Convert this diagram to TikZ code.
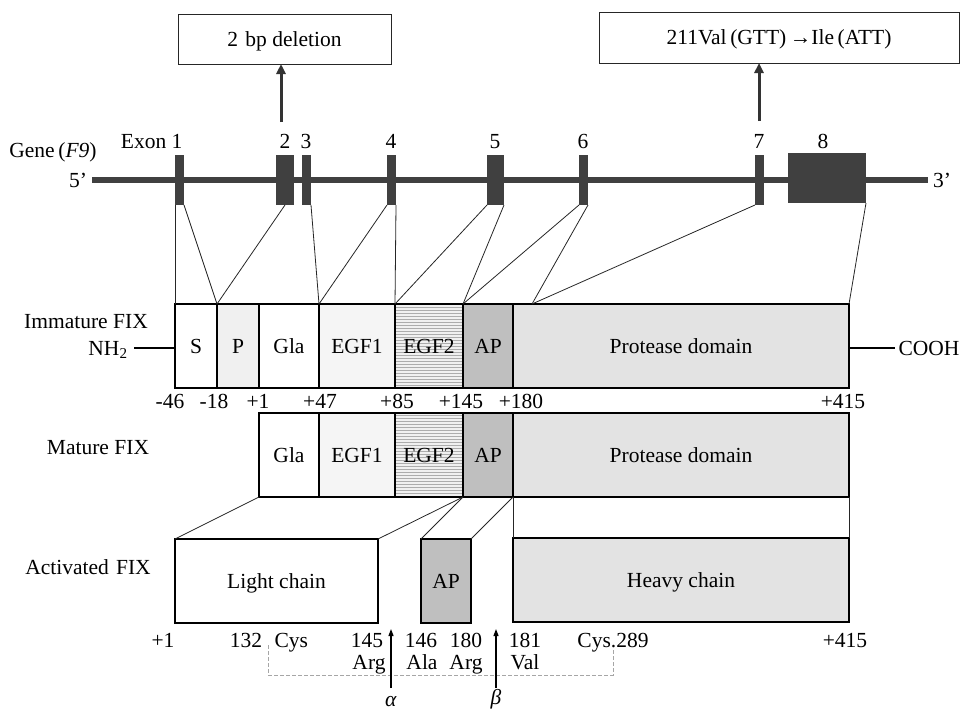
\documentclass[tikz,border=0pt]{standalone}
\usepackage{fontspec}
\setmainfont{Liberation Serif}
\usetikzlibrary{arrows.meta,patterns}
\begin{document}
\begin{tikzpicture}[x=1pt,y=-1pt, font=\fontsize{21.5}{25}\selectfont,
 every node/.append style={text height=15pt, text depth=1pt},
 dom/.style={draw=black, line width=1.3pt, inner sep=0pt, outer sep=0pt, minimum height=84pt},
 exon/.style={fill=black!75, draw=none, inner sep=0pt, outer sep=0pt, minimum height=50pt},
 conn/.style={line width=0.8pt, black!85},
 mbox/.style={draw=black!85, line width=1pt, inner sep=0pt, outer sep=0pt, minimum height=50pt},
 bigarr/.style={line width=3pt, black!80, -{Triangle[length=10pt,width=9pt]}},
 cutarr/.style={line width=1.2pt, -{Triangle[length=7pt,width=5pt]}},
 bracket/.style={gray!70, line width=0.7pt, dash pattern=on 4pt off 2pt},
 greek/.style={inner sep=0pt, text height=10pt, text depth=0pt},
 wfill/.style={fill=white},
 pfill/.style={fill=gray!12},
 egfone/.style={fill=gray!8},
 egftwo/.style={preaction={fill=gray!12}, pattern=horizontal lines, pattern color=gray!65},
 apfill/.style={fill=gray!50},
 protfill/.style={fill=gray!22},
]
\useasboundingbox (0,0) rectangle (960,710);

% ---- mutation boxes
\node[mbox, minimum width=213pt] (del) at (284.5,39) {2\,\,bp deletion};
\node[mbox, minimum width=360pt, minimum height=51pt] (mis) at (779,37.5) {211Val\,(GTT)\,→Ile\,(ATT)};

% ---- gene
\coordinate (g5) at (92,180);
\coordinate (g3) at (928,180);
\draw[line width=6pt, black!75] (g5) -- (g3);
\node (p5) at (78,180) {5’};
\node (p3) at (942,180) {3’};
\node (gene) at (53,150) {Gene\,(\textit{F9})};

\node[exon, minimum width=9pt]  (E1) at (179.5,180) {};
\node[exon, minimum width=18pt] (E2) at (285,180) {};
\node[exon, minimum width=9pt]  (E3) at (306.5,180) {};
\node[exon, minimum width=9pt]  (E4) at (391.5,180) {};
\node[exon, minimum width=17pt] (E5) at (495.5,180) {};
\node[exon, minimum width=9pt]  (E6) at (583.5,180) {};
\node[exon, minimum width=9pt]  (E7) at (759.5,180) {};
\node[exon, minimum width=78pt] (E8) at (827,178) {};

\node[anchor=east] (x1) at (186,141) {Exon 1};
\node (x2) at (285,141) {2};
\node (x3) at (306,141) {3};
\node (x4) at (391,141) {4};
\node (x5) at (495,141) {5};
\node (x6) at (583,141) {6};
\node (x7) at (759,141) {7};
\node (x8) at (823,141) {8};

\coordinate (a1) at (281,122);
\coordinate (a2) at (759,121);
\draw[bigarr] (a1) -- (del.south -| a1);
\draw[bigarr] (a2) -- (mis.south -| a2);

% ---- immature FIX
\node (imm) at (86,321) {Immature FIX};
\node[dom, wfill, minimum width=42pt]  (S)    at (196,346) {S};
\node[dom, pfill, minimum width=42pt]  (P)    at (238,346) {P};
\node[dom, wfill, minimum width=60pt]  (Gla)  at (289,346) {Gla};
\node[dom, egfone, minimum width=76pt] (EGa)  at (357,346) {EGF1};
\node[dom, egftwo, minimum width=68pt] (EGb)  at (429,346) {EGF2};
\node[dom, apfill, minimum width=50pt] (AP)   at (488,346) {AP};
\node[dom, protfill, minimum width=336pt] (Pr) at (681,346) {Protease domain};
\node (nh) at (108,348) {NH\textsubscript{2}};
\node (cooh) at (929,348) {COOH};
\draw[line width=1.3pt] (nh.east) ++(3,0) coordinate (nhe) -- (nhe -| S.west);
\draw[line width=1.3pt] (Pr.east |- cooh) -- (cooh.west);

\foreach \t/\xx in {-46/170, -18/214, +1/258, +47/320, +85/397, +145/461, +180/521, +415/843}
  \node at (\xx,401) {\t};

% exon-to-domain connectors
\coordinate (pj) at (532,304);
\draw[conn] (E1.south west) -- (S.north west);
\draw[conn] (E1.south east) -- (S.north east);
\draw[conn] (E2.south) -- (S.north east);
\draw[conn] (E3.south east) -- (EGa.north west);
\draw[conn] (E4.south west) -- (EGa.north west);
\draw[conn] (E4.south east) -- (EGa.north east);
\draw[conn] (E5.south west) -- (EGb.north west);
\draw[conn] (E5.south east) -- (EGb.north east);
\draw[conn] (E6.south west) -- (EGb.north east);
\draw[conn] (E6.south east) -- (pj);
\draw[conn] (E7.south west) -- (pj);
\draw[conn] (E8.south east) -- (Pr.north east);

% ---- mature FIX
\node (mat) at (98,447) {Mature FIX};
\node[dom, wfill, minimum width=60pt]  (mGla) at (289,455) {Gla};
\node[dom, egfone, minimum width=76pt] (mEGa) at (357,455) {EGF1};
\node[dom, egftwo, minimum width=68pt] (mEGb) at (429,455) {EGF2};
\node[dom, apfill, minimum width=50pt] (mAP)  at (488,455) {AP};
\node[dom, protfill, minimum width=336pt] (mPr) at (681,455) {Protease domain};

% ---- activated FIX
\node (act) at (88,567) {Activated\,\,FIX};
\node[dom, wfill, minimum width=203pt] (LC) at (276.5,581) {Light chain};
\node[dom, apfill, minimum width=50pt] (aAP) at (446,581) {AP};
\node[dom, protfill, minimum width=336pt] (HC) at (681,580) {Heavy chain};

\draw[conn] (mGla.south west) -- (LC.north west);
\draw[conn] (mEGb.south east) -- (LC.north east);
\draw[conn] (mEGb.south east) -- (aAP.north west);
\draw[conn] (mAP.south east) -- (aAP.north east);
\draw[conn] (mAP.south east) -- (HC.north west);
\draw[conn] (mPr.south east) -- (HC.north east);

% residue labels
\node at (163,640) {+1};
\node at (246,640) {132};
\node[anchor=west] (cys) at (271,640) {Cys};
\node at (367,640) {145};
\node at (369,662) {Arg};
\node at (421,640) {146};
\node at (422,662) {Ala};
\node at (466,640) {180};
\node at (466,662) {Arg};
\node at (525,640) {181};
\node at (525,662) {Val};
\node (cys2) at (613,640) {Cys.289};
\node at (845,640) {+415};

\coordinate (b1) at (268,645);
\coordinate (b2) at (613,650);
\draw[bracket] (b1) -- (268,675) -- (613,675) -- (b2);

\coordinate (al0) at (391,688);
\coordinate (be0) at (496,688);
\draw[cutarr] (al0) -- (391,629);
\draw[cutarr] (be0) -- (496,629);
\node[greek] (alpha) at (391,701) {\textit{α}};
\node[greek] (beta) at (496,699) {\textit{β}};
\end{tikzpicture}
\end{document}
